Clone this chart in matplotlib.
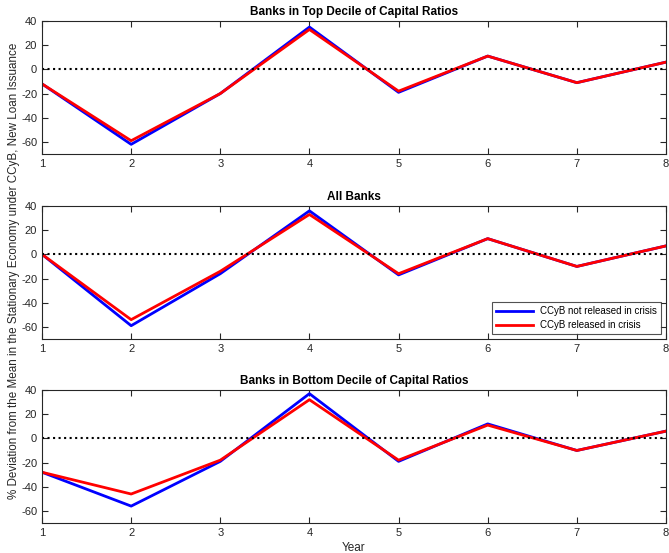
import numpy as np
import matplotlib.pyplot as plt

plt.rcParams['font.family'] = ['Liberation Sans', 'DejaVu Sans']
plt.rcParams['axes.unicode_minus'] = False

years = [1, 2, 3, 4, 5, 6, 7, 8]

titles = ['Banks in Top Decile of Capital Ratios',
          'All Banks',
          'Banks in Bottom Decile of Capital Ratios']

# CCyB not released in crisis
top_not_released = [-12, -62, -20, 35, -19, 11, -11, 6]
all_not_released = [0, -59, -16, 36, -17, 13, -10, 7]
bottom_not_released = [-28, -56, -19, 37, -19, 12, -10, 6]

# CCyB released in crisis
top_released = [-12, -59, -20, 33, -18, 11, -11, 6]
all_released = [0, -54, -14, 33, -16, 13, -10, 7]
bottom_released = [-28, -46, -18, 32, -18, 11, -10, 6]

not_released = [top_not_released, all_not_released, bottom_not_released]
released = [top_released, all_released, bottom_released]

fig = plt.figure(figsize=(6.69, 5.53), dpi=100)
positions = [[0.0628, 0.7215, 0.9327, 0.2405],
             [0.0628, 0.387, 0.9327, 0.2405],
             [0.0628, 0.0542, 0.9327, 0.2405]]

tick_color = '#262626'
for i in range(3):
    ax = fig.add_axes(positions[i])
    ax.plot(years, not_released[i], color='#0000ff', lw=2, label='CCyB not released in crisis')
    ax.plot(years, released[i], color='#ff0000', lw=2, label='CCyB released in crisis')
    ax.axhline(0, color='black', ls=':', lw=1.5)
    ax.set_xlim(1, 8)
    ax.set_ylim(-70, 40)
    ax.set_xticks(years)
    ax.set_yticks([-60, -40, -20, 0, 20, 40])
    ax.tick_params(direction='in', top=True, right=True, labelsize=8,
                   colors=tick_color, length=4, width=0.8)
    for s in ax.spines.values():
        s.set_color('#262626')
        s.set_linewidth(0.8)
    ax.set_title(titles[i], fontsize=8.5, fontweight='bold', pad=4)
    if i == 1:
        leg = ax.legend(loc='lower right', fontsize=7, frameon=True, fancybox=False,
                        edgecolor='#262626', borderaxespad=0.5, handlelength=3.8,
                        labelspacing=0.4, borderpad=0.4)
        leg.get_frame().set_linewidth(0.8)
    if i == 2:
        ax.set_xlabel('Year', fontsize=8.5, color=tick_color, labelpad=3)

fig.text(0.021, 0.51,
         '% Deviation from the Mean in the Stationary Economy under CCyB, New Loan Issuance',
         rotation=90, ha='center', va='center', fontsize=8.4, color=tick_color)

fig.savefig('out.png', dpi=100)
